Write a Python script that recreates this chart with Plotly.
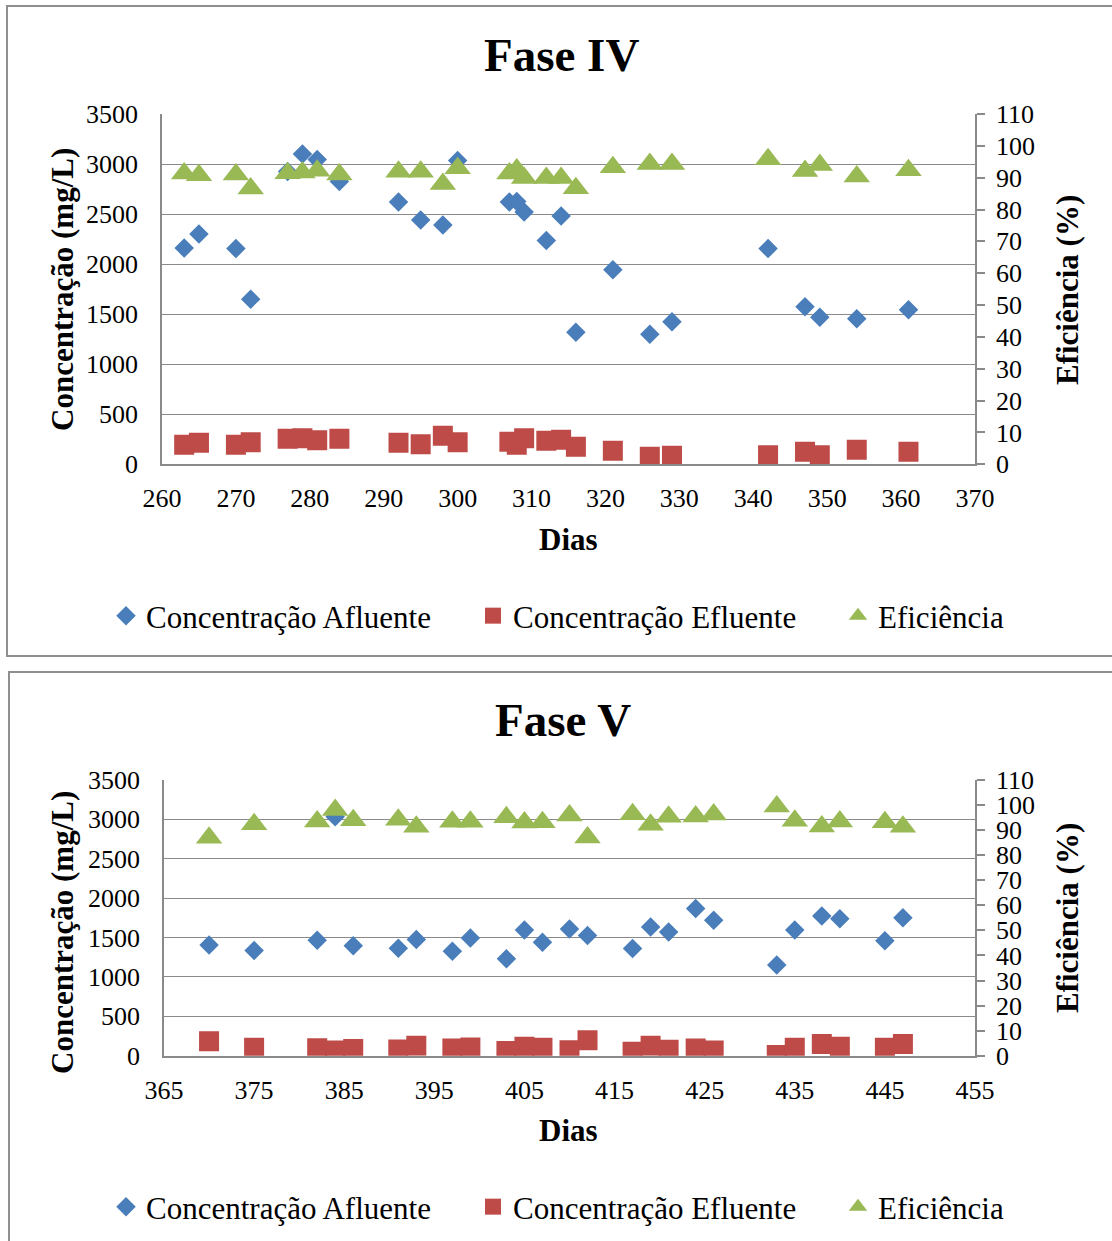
import plotly.graph_objects as go

W, H = 1112, 1241

# ---------------- data ----------------
dias_iv = [263, 265, 270, 272, 277, 279, 281, 284, 292, 295, 298, 300, 307, 308, 309,
           312, 314, 316, 321, 326, 329, 342, 347, 349, 354, 361]
afluente_iv = [2160, 2300, 2155, 1650, 2925, 3100, 3045, 2825, 2620, 2440, 2390, 3035, 2620,
               2625, 2520, 2235, 2480, 1320, 1945, 1300, 1425, 2155, 1575, 1470, 1455, 1545]
efluente_iv = [195, 215, 195, 220, 255, 260, 240, 255, 215, 200, 285, 220, 225, 195, 260,
               235, 245, 175, 135, 75, 85, 90, 125, 90, 145, 125]
eficiencia_iv = [91.3, 90.8, 91.0, 86.6, 91.4, 91.6, 92.2, 91.0, 91.9, 91.9, 88.0, 93.0, 91.3,
                 92.6, 89.9, 89.9, 89.9, 86.7, 93.3, 94.3, 94.3, 95.8, 92.1, 94.0, 90.4, 92.3]

dias_v = [370, 375, 382, 384, 386, 391, 393, 397, 399, 403, 405, 407, 410, 412, 417,
          419, 421, 424, 426, 433, 435, 438, 440, 445, 447]
afluente_v = [1405, 1335, 1465, 3035, 1395, 1365, 1475, 1325, 1495, 1230, 1595, 1440, 1610,
              1525, 1360, 1635, 1570, 1870, 1720, 1150, 1595, 1775, 1740, 1460, 1750]
efluente_v = [185, 100, 95, 65, 85, 80, 125, 90, 105, 60, 115, 100, 70, 195, 50,
              125, 75, 90, 65, 10, 100, 150, 115, 100, 150]
eficiencia_v = [87.0, 92.3, 93.4, 98.0, 93.9, 94.1, 91.3, 93.3, 93.3, 95.1, 93.0, 93.1, 95.8,
                87.1, 96.3, 92.1, 95.3, 95.4, 96.2, 99.4, 93.7, 91.4, 93.4, 93.1, 91.3]

names = ["Concentração Afluente", "Concentração Efluente", "Eficiência"]
titles = ["Fase IV", "Fase V"]
y_title = "Concentração (mg/L)"
y2_title = "Eficiência (%)"
x_title = "Dias"

# ---------------- style ----------------
FONT = "Liberation Serif, Times New Roman, serif"
BLUE, RED, GREEN = "#4A7EBB", "#BE4B48", "#98B954"
GRID = "#8A8A8A"


def px(x):
    return x / W


def py(y):
    return 1 - y / H


fig = go.Figure()

# legend text left edges (px) for the three items, legend centre rows (px)
leg_text_x = [148, 515, 880]
leg_rows = [616, 1207]

panels = [
    dict(d=dias_iv, a=afluente_iv, e=efluente_iv, f=eficiencia_iv, xa="x", ya="y", ya2="y2"),
    dict(d=dias_v, a=afluente_v, e=efluente_v, f=eficiencia_v, xa="x2", ya="y3", ya2="y4"),
]

legend_layouts = {}
legfont = dict(family=FONT, size=31, color="black")

for pi, p in enumerate(panels):
    specs = [
        (p["a"], p["ya"], dict(symbol="diamond", size=15, color=BLUE, line=dict(width=0))),
        (p["e"], p["ya"], dict(symbol="square", size=20, color=RED, line=dict(width=0))),
        (p["f"], p["ya2"], dict(symbol="triangle-up", size=23, color=GREEN, line=dict(width=0))),
    ]
    for k, (vals, yax, mk) in enumerate(specs):
        idx = pi * 3 + k + 1
        lname = "legend" if idx == 1 else f"legend{idx}"
        fig.add_trace(go.Scatter(x=p["d"], y=vals, mode="markers", name=names[k], marker=mk,
                                 xaxis=p["xa"], yaxis=yax, legend=lname))
        legend_layouts[lname] = dict(orientation="h", x=px(leg_text_x[k] - 42), y=py(leg_rows[pi]),
                                     xanchor="left", yanchor="middle", font=legfont,
                                     bgcolor="rgba(0,0,0,0)", borderwidth=0)

tickfont = dict(family=FONT, size=26, color="black")

# geometry (pixels)
g1 = dict(l=162, r=975, t=114, b=464.3)
g2 = dict(l=164, r=975, t=780, b=1055.7)


def xaxis(g, rng, tick0):
    return dict(domain=[px(g["l"]), px(g["r"])], range=rng, tick0=tick0, dtick=10,
                showgrid=False, zeroline=False, showline=True, linecolor=GRID, linewidth=1.5,
                ticks="", tickfont=tickfont, ticklabelstandoff=10, fixedrange=True,
                automargin=False)


def yaxis(g, anchor):
    return dict(domain=[py(g["b"]), py(g["t"])], range=[0, 3500], dtick=500, anchor=anchor,
                showgrid=True, gridcolor=GRID, gridwidth=1.3, zeroline=False, showline=True,
                linecolor=GRID, linewidth=1.5, ticks="", tickfont=tickfont, ticklabelstandoff=17,
                fixedrange=True, automargin=False)


def yaxis2(over, anchor):
    return dict(overlaying=over, anchor=anchor, side="right", range=[0, 110], dtick=10,
                showgrid=False, zeroline=False, showline=True, linecolor=GRID, linewidth=1.5,
                ticks="outside", ticklen=8, tickcolor=GRID, tickwidth=1.5, tickfont=tickfont,
                ticklabelstandoff=6, fixedrange=True, automargin=False)


annotations = []


def ann(text, x, y, size, bold=False, angle=0):
    annotations.append(dict(text=f"<b>{text}</b>" if bold else text, x=px(x), y=py(y),
                            xref="paper", yref="paper", showarrow=False, textangle=angle,
                            xanchor="center", yanchor="middle",
                            font=dict(family=FONT, size=size, color="black")))


ann(titles[0], 561, 55, 47, bold=True)
ann(y_title, 62, 290, 31, bold=True, angle=-90)
ann(y2_title, 1067, 290, 31, bold=True, angle=-90)
ann(x_title, 568, 539, 31, bold=True)

ann(titles[1], 563, 720, 47, bold=True)
ann(y_title, 62, 933, 31, bold=True, angle=-90)
ann(y2_title, 1067, 918, 31, bold=True, angle=-90)
ann(x_title, 568, 1130, 31, bold=True)

shapes = [
    dict(type="rect", xref="paper", yref="paper", x0=px(7), x1=px(1120), y0=py(6), y1=py(656),
         line=dict(color="#8F8F8F", width=2), fillcolor="rgba(0,0,0,0)", layer="below"),
    dict(type="rect", xref="paper", yref="paper", x0=px(9), x1=px(1120), y0=py(672), y1=py(1250),
         line=dict(color="#8F8F8F", width=2), fillcolor="rgba(0,0,0,0)", layer="below"),
]

fig.update_layout(
    width=W, height=H, margin=dict(l=0, r=0, t=0, b=0, autoexpand=False),
    paper_bgcolor="white", plot_bgcolor="white",
    xaxis=xaxis(g1, [260, 370], 260),
    yaxis=yaxis(g1, "x"),
    yaxis2=yaxis2("y", "x"),
    xaxis2=dict(xaxis(g2, [365, 455], 365), anchor="y3"),
    yaxis3=yaxis(g2, "x2"),
    yaxis4=yaxis2("y3", "x2"),
    annotations=annotations,
    shapes=shapes,
    showlegend=True,
    **legend_layouts,
)

fig.write_html("out.html")
